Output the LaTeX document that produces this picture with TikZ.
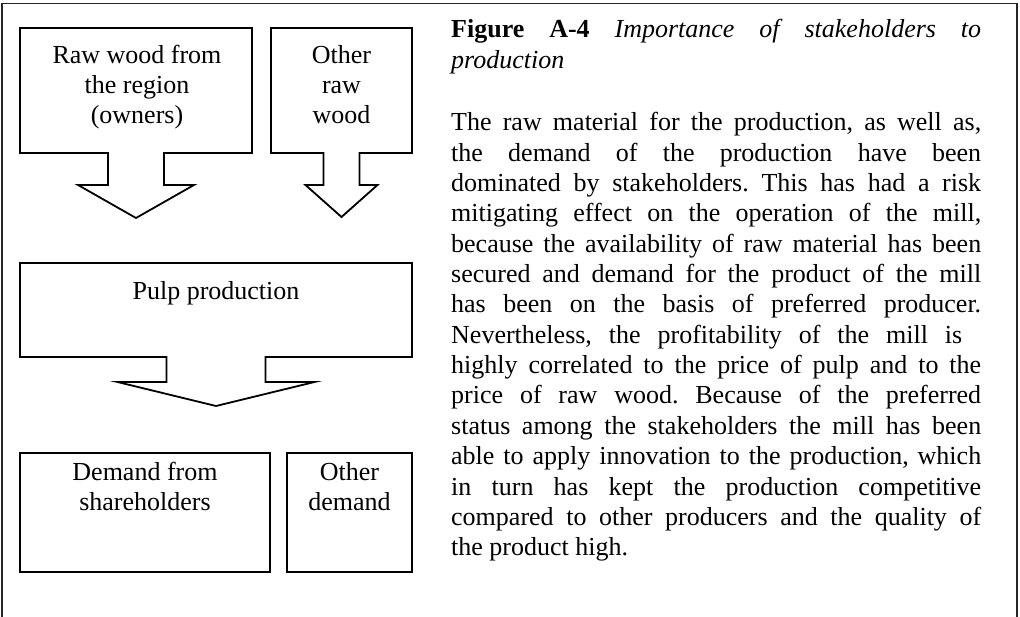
\documentclass[tikz,border=0pt]{standalone}
\usepackage{fontspec}
\setmainfont{Liberation Serif}
\usetikzlibrary{calc}
\frenchspacing

\newcommand\boxfont{\fontsize{26}{30}\selectfont}
\newcommand\colfont{\fontsize{26}{30.36}\selectfont}
\newcommand\jline[1]{\makebox[530pt][s]{#1}}

\tikzset{
  panel/.style={shape=rectangle, inner sep=0pt, outer sep=0pt},
  outline/.style={draw=black, line width=1.8pt, line join=miter},
  frameline/.style={draw=black!85, line width=1.3pt},
  boxtext/.style={inner sep=0pt, anchor=base, font=\boxfont},
  coltext/.style={inner sep=0pt, anchor=base west, font=\colfont},
}

% rectangle outline with a block arrow leaving its lower side:
% #1 node, #2 half shaft width, #3 shaft length, #4 half head width, #5 head length
\newcommand\downcallout[5]{%
  \draw[outline] (#1.south west) -- (#1.north west) -- (#1.north east) -- (#1.south east)
    -- ($(#1.south)+(#2,0)$) -- ($(#1.south)+(#2,#3)$) -- ($(#1.south)+(#4,#3)$)
    -- ($(#1.south)+(0,#3+#5)$) -- ($(#1.south)+(-#4,#3)$) -- ($(#1.south)+(-#2,#3)$)
    -- ($(#1.south)+(-#2,0)$) -- cycle;}

\begin{document}
\begin{tikzpicture}[x=1pt, y=-1pt]
\useasboundingbox (0,0) rectangle (1020,617);

% open frame round the whole figure
\coordinate (fbl) at (2,625);
\coordinate (ftl) at (2,3.5);
\coordinate (ftr) at (1017,3.5);
\coordinate (fbr) at (1017,625);
\draw[frameline] (fbl) -- (ftl) -- (ftr) -- (fbr);

% boxes
\node[panel, minimum width=232pt, minimum height=125pt] (region) at (136,90.5) {};
\node[panel, minimum width=141pt, minimum height=125pt] (otherwood) at (341.5,90.5) {};
\node[panel, minimum width=392pt, minimum height=94pt] (pulp) at (216,310) {};
\node[panel, minimum width=250pt, minimum height=119pt] (shareholders) at (145,512.5) {};
\node[panel, minimum width=125pt, minimum height=119pt] (otherdemand) at (349.5,512.5) {};

\downcallout{region}{28}{32}{58}{33}
\downcallout{otherwood}{18}{32}{36}{32}
\downcallout{pulp}{49.5}{25}{98.5}{24}
\draw[outline] (shareholders.north west) rectangle (shareholders.south east);
\draw[outline] (otherdemand.north west) rectangle (otherdemand.south east);

% box labels
\node[boxtext] (t-region) at (137,63.3) {\parbox[t]{230pt}{\centering Raw wood from\\the region\\(owners)}};
\node[boxtext] (t-otherwood) at (341.5,63.3) {\parbox[t]{140pt}{\centering Other\\raw\\wood}};
\node[boxtext] (t-pulp) at (216,300) {Pulp production};
\node[boxtext] (t-shareholders) at (145,480.5) {\parbox[t]{248pt}{\centering Demand from\\shareholders}};
\node[boxtext] (t-otherdemand) at (349.5,480.5) {\parbox[t]{124pt}{\centering Other\\demand}};

% caption
\node[coltext] (caption) at (451,37.3) {\parbox[t]{530pt}{\fontsize{26}{31}\selectfont
  \jline{\textbf{Figure A-4} \textit{Importance of stakeholders to}}\\
  \textit{production}}};

% body text, justified line by line
\node[coltext] (body) at (451,130.7) {\parbox[t]{530pt}{\colfont
  \jline{The raw material for the production, as well as,}\\
  \jline{the demand of the production have been}\\
  \jline{dominated by stakeholders. This has had a risk}\\
  \jline{mitigating effect on the operation of the mill,}\\
  \jline{because the availability of raw material has been}\\
  \jline{secured and demand for the product of the mill}\\
  \jline{has been on the basis of preferred producer.}\\
  \makebox[511pt][s]{Nevertheless, the profitability of the mill is}\\
  \jline{highly correlated to the price of pulp and to the}\\
  \jline{price of raw wood. Because of the preferred}\\
  \jline{status among the stakeholders the mill has been}\\
  \jline{able to apply innovation to the production, which}\\
  \jline{in turn has kept the production competitive}\\
  \jline{compared to other producers and the quality of}\\
  the product high.}};
\end{tikzpicture}
\end{document}
